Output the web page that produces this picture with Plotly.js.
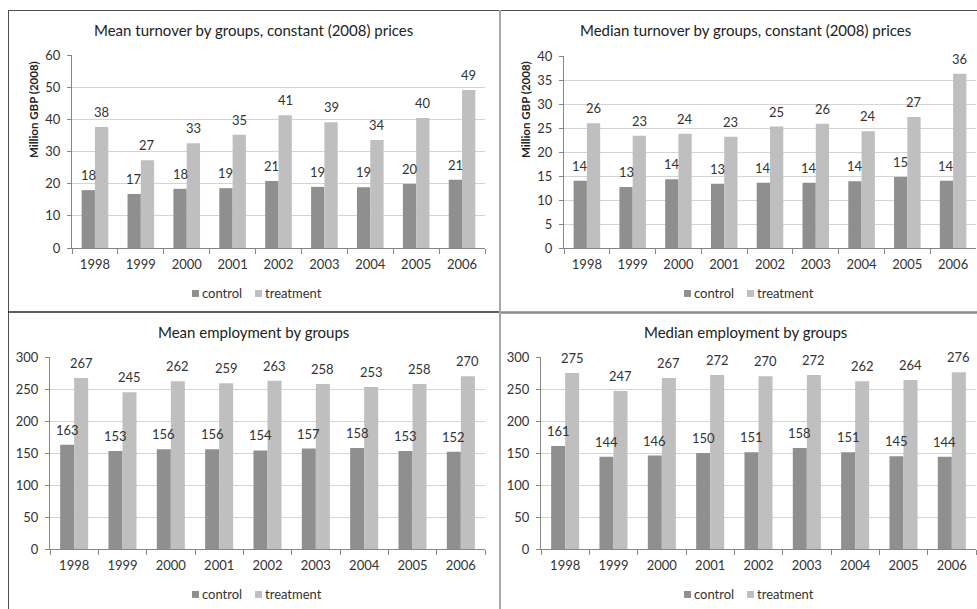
<!DOCTYPE html>
<html>
<head>
<meta charset="utf-8">
<script src="https://cdn.plot.ly/plotly-3.0.1.min.js"></script>
<style>
html,body{margin:0;padding:0;background:#fff;}
#chart{width:977px;height:609px;}
/* Excel-style small legend swatch sitting right next to its label */
#chart .legendpoints path{transform:translate(33.5px,0.5px) scale(0.58) !important;}
</style>
</head>
<body>
<div id="chart"></div>
<script>
// ---- data ----
const years = ['1998','1999','2000','2001','2002','2003','2004','2005','2006'];
const seriesNames = ['control','treatment'];

const meanTurnoverControl   = [18.0, 16.8, 18.4, 18.6, 20.8, 19.0, 18.9, 19.9, 21.2];
const meanTurnoverTreatment = [37.6, 27.3, 32.6, 35.2, 41.3, 39.1, 33.6, 40.4, 49.1];

const medianTurnoverControl   = [14.0, 12.7, 14.3, 13.4, 13.6, 13.6, 13.9, 14.8, 14.0];
const medianTurnoverTreatment = [26.0, 23.4, 23.8, 23.2, 25.3, 25.9, 24.3, 27.3, 36.3];

const meanEmploymentControl   = [163, 153, 156, 156, 154, 157, 158, 153, 152];
const meanEmploymentTreatment = [267, 245, 262, 259, 263, 258, 253, 258, 270];

const medianEmploymentControl   = [161, 144, 146, 150, 151, 158, 151, 145, 144];
const medianEmploymentTreatment = [275, 247, 267, 272, 270, 272, 262, 264, 276];

const panelTitles = [
  'Mean turnover by groups, constant (2008) prices',
  'Median turnover by groups, constant (2008) prices',
  'Mean employment by groups',
  'Median employment by groups'
];
const yTitle = 'Million GBP (2008)';

// ---- layout helpers ----
const W = 977, H = 609;
const PX = p => p / W;
const PY = p => 1 - p / H;
const FONT = 'Lato, "Open Sans", sans-serif';
const colors = ['#8f8f8f', '#bfbfbf'];
const BARGAP = 0.42;

const panels = [
  {c: meanTurnoverControl, t: meanTurnoverTreatment, x0: 72, x1: 485, yTop: 55, yBot: 248, range: [0, 60], dtick: 10, title: [253, 30], legendText: [202, 265], legendY: 293, ytitle: [33, 110]},
  {c: medianTurnoverControl, t: medianTurnoverTreatment, x0: 564, x1: 976, yTop: 56, yBot: 248, range: [0, 40], dtick: 5, title: [745, 30], legendText: [694, 757], legendY: 293, ytitle: [525, 110]},
  {c: meanEmploymentControl, t: meanEmploymentTreatment, x0: 50, x1: 485, yTop: 357, yBot: 549, range: [0, 300], dtick: 50, title: [253, 332], legendText: [202, 265], legendY: 594, ytitle: null},
  {c: medianEmploymentControl, t: medianEmploymentTreatment, x0: 541, x1: 976, yTop: 357, yBot: 549, range: [0, 300], dtick: 50, title: [745, 332], legendText: [694, 757], legendY: 594, ytitle: null}
];

const traces = [];
const layout = {
  width: W, height: H,
  margin: {l: 0, r: 0, t: 0, b: 0},
  paper_bgcolor: '#ffffff', plot_bgcolor: '#ffffff',
  barmode: 'group', bargap: BARGAP, bargroupgap: 0,
  font: {family: FONT, color: '#333333', size: 12},
  showlegend: true,
  annotations: [], shapes: []
};

let legendIdx = 0;
panels.forEach((p, i) => {
  const n = i === 0 ? '' : String(i + 1);
  const xa = 'x' + n, ya = 'y' + n;
  [p.c, p.t].forEach((vals, k) => {
    legendIdx += 1;
    const lg = legendIdx === 1 ? 'legend' : 'legend' + legendIdx;
    traces.push({
      type: 'bar', x: years, y: vals, name: seriesNames[k],
      xaxis: xa, yaxis: ya, legend: lg,
      marker: {color: colors[k], line: {width: 0}},
      hoverinfo: 'skip'
    });
    layout[lg] = {
      orientation: 'h', x: PX(p.legendText[k] - 40), y: PY(p.legendY),
      xanchor: 'left', yanchor: 'middle', xref: 'paper', yref: 'paper',
      font: {family: FONT, size: 13, color: '#333333'},
      bgcolor: 'rgba(0,0,0,0)', borderwidth: 0, itemwidth: 30, tracegroupgap: 0
    };
    // data labels
    vals.forEach((v, j) => {
      layout.annotations.push({
        xref: xa, yref: ya, x: j + (k === 0 ? -1 : 1) * (1 - BARGAP) / 4, y: v,
        text: String(Math.round(v)), showarrow: false,
        xanchor: 'center', yanchor: 'bottom', yshift: 5,
        font: {family: FONT, size: 13, color: '#333333'}
      });
    });
  });
  layout['xaxis' + n] = {
    domain: [PX(p.x0), PX(p.x1)], anchor: ya, type: 'category',
    showline: true, linecolor: '#868686', linewidth: 1,
    ticks: 'outside', tickson: 'boundaries', ticklen: 5, tickcolor: '#868686',
    tickfont: {family: FONT, size: 13, color: '#333333'},
    ticklabelstandoff: 4,
    showgrid: false, zeroline: false, fixedrange: true
  };
  layout['yaxis' + n] = {
    domain: [PY(p.yBot), PY(p.yTop)], anchor: xa,
    range: p.range, dtick: p.dtick, tick0: 0,
    showline: true, linecolor: '#868686', linewidth: 1,
    ticks: 'outside', ticklen: 4, tickcolor: '#868686',
    tickfont: {family: FONT, size: 13, color: '#333333'},
    ticklabelstandoff: 4,
    showgrid: true, gridcolor: '#d4d4d4', gridwidth: 1,
    zeroline: false, fixedrange: true
  };
  layout.annotations.push({
    xref: 'paper', yref: 'paper', x: PX(p.title[0]), y: PY(p.title[1]),
    text: panelTitles[i], showarrow: false, xanchor: 'center', yanchor: 'middle',
    font: {family: FONT, size: 15, color: '#222222'}
  });
  if (p.ytitle) {
    layout.annotations.push({
      xref: 'paper', yref: 'paper', x: PX(p.ytitle[0]), y: PY(p.ytitle[1]),
      text: '<b>' + yTitle + '</b>', showarrow: false, textangle: -90,
      xanchor: 'center', yanchor: 'middle',
      font: {family: FONT, size: 11.5, color: '#222222'}
    });
  }
});

// panel borders
const ln = (x0, y0, x1, y1, color, width) => ({
  type: 'line', xref: 'paper', yref: 'paper',
  x0: PX(x0), y0: PY(y0), x1: PX(x1), y1: PY(y1),
  line: {color: color, width: width}
});
layout.shapes.push(ln(8, 10.5, 977, 10.5, '#505050', 1));
layout.shapes.push(ln(8.5, 10, 8.5, 609, '#505050', 1));
layout.shapes.push(ln(8, 312, 500, 312, '#2a2a2a', 1.5));
layout.shapes.push(ln(500, 312.5, 977, 312.5, '#8a8a8a', 2.5));
layout.shapes.push(ln(500, 10, 500, 609, '#a8a8a8', 2));

Plotly.newPlot('chart', traces, layout, {displayModeBar: false, staticPlot: true});
</script>
</body>
</html>
